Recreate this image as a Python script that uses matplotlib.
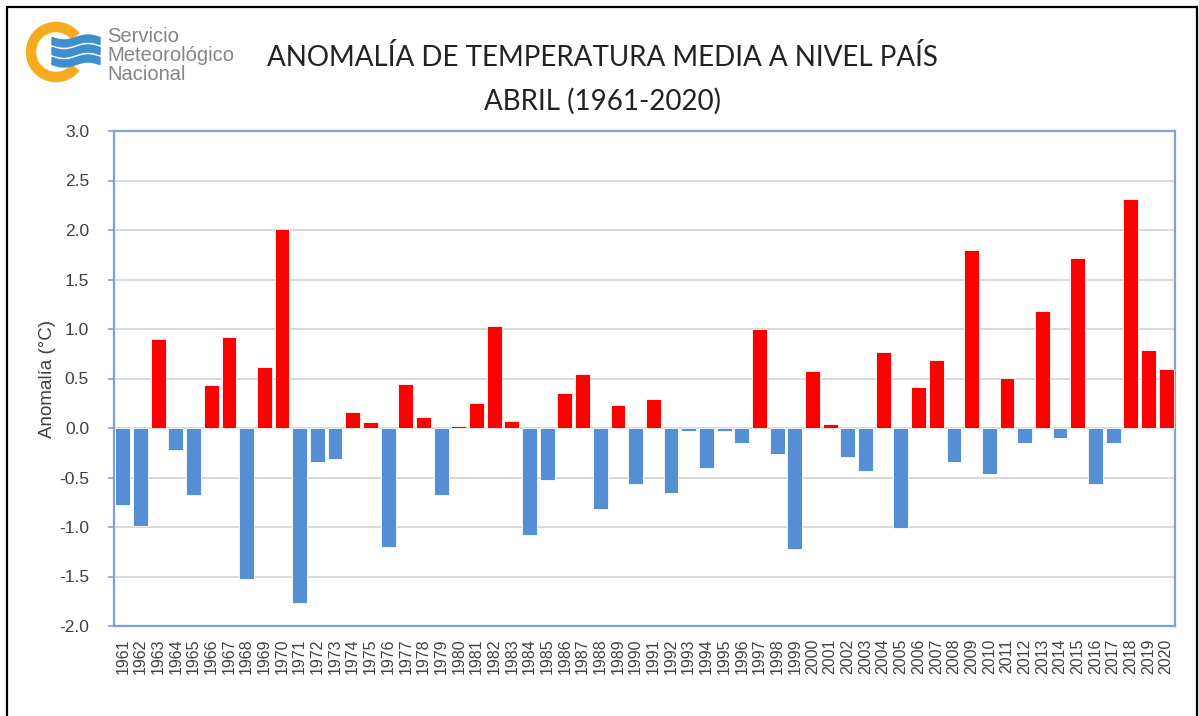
import numpy as np
import matplotlib
matplotlib.use("Agg")
import matplotlib.pyplot as plt
from matplotlib.patches import Rectangle, Arc, Polygon

years = list(range(1961, 2021))
anomalies = [
    -0.78, -0.99, 0.90, -0.22, -0.68, 0.43, 0.92, -1.53, 0.62, 2.01,
    -1.77, -0.34, -0.31, 0.16, 0.06, -1.20, 0.44, 0.11, -0.68, 0.02,
    0.25, 1.03, 0.07, -1.08, -0.53, 0.35, 0.55, -0.82, 0.23, -0.57,
    0.29, -0.66, -0.03, -0.40, -0.03, -0.15, 1.00, -0.26, -1.22, 0.58,
    0.04, -0.29, -0.43, 0.77, -1.01, 0.41, 0.69, -0.34, 1.80, -0.46,
    0.51, -0.15, 1.18, -0.10, 1.72, -0.57, -0.15, 2.31, 0.79, 0.60,
]
yticks = [-2.0, -1.5, -1.0, -0.5, 0.0, 0.5, 1.0, 1.5, 2.0, 2.5, 3.0]
title_lines = ["ANOMALÍA DE TEMPERATURA MEDIA A NIVEL PAÍS", "ABRIL (1961-2020)"]
ylabel = "Anomalía (°C)"
logo_lines = ["Servicio", "Meteorológico", "Nacional"]

W, H = 1199, 716
fig = plt.figure(figsize=(W / 100, H / 100), dpi=100)
fig.patch.set_facecolor("white")

# outer frame
fig.add_artist(Rectangle((7 / W, -0.01), (1197 - 7) / W, 1 - 7 / H + 0.01,
                         transform=fig.transFigure, fill=False,
                         edgecolor="black", linewidth=1.6))

ax = fig.add_axes([114 / W, 1 - 626 / H, (1175 - 114) / W, (626 - 131) / H])
x = np.arange(len(years))
colors = ["#ff0000" if v >= 0 else "#558ed5" for v in anomalies]
ax.bar(x, anomalies, width=0.84, color=colors, edgecolor="white",
       linewidth=0.6, zorder=3)
ax.set_xlim(-0.5, len(years) - 0.5)
ax.set_ylim(-2.0, 3.0)
ax.set_yticks(yticks)
ax.set_yticklabels([f"{t:.1f}" for t in yticks], fontsize=12.5,
                   color="#404040", family="Liberation Sans")
ax.set_xticks(x)
ax.set_xticklabels([str(y) for y in years], rotation=90, fontsize=11.5,
                   color="#404040", family="Liberation Sans")
ax.tick_params(axis="x", length=0, pad=9)
ax.tick_params(axis="y", length=4, width=1.2, color="#7ea2d6", pad=14)
ax.grid(axis="y", color="#d9d9d9", linewidth=1.4, zorder=0)
for s in ax.spines.values():
    s.set_color("#7ea2d6")
    s.set_linewidth(1.6)
ax.set_ylabel(ylabel, fontsize=13.5, color="#404040", family="Liberation Sans",
              labelpad=2)

# title
fig.text(602 / W, 1 - 58 / H, title_lines[0], ha="center", va="center",
         fontsize=20, color="#222222", family="Lato")
fig.text(602 / W, 1 - 101 / H, title_lines[1], ha="center", va="center",
         fontsize=20, color="#222222", family="Lato")

# logo (drawn in pixel coordinates)
lax = fig.add_axes([0, 0, 1, 1], zorder=5)
lax.set_xlim(0, W)
lax.set_ylim(H, 0)
lax.set_axis_off()
lax.patch.set_alpha(0)
lax.add_patch(Arc((56, 52), 50, 50, theta1=38, theta2=322,
                  color="#f5ab1b", linewidth=7.5))
xs = np.linspace(52, 100, 60)
for off in (41, 51, 61):
    top = off - 3.5 + 2.5 * np.sin((xs - 52) / 48 * 2 * np.pi)
    bot = top + 7
    pts = np.column_stack([np.r_[xs, xs[::-1]], np.r_[top, bot[::-1]]])
    lax.add_patch(Polygon(pts, closed=True, color="#3d8fd1"))
for i, t in enumerate(logo_lines):
    fig.text(107 / W, 1 - (37 + 18.5 * i) / H, t, ha="left", va="center",
             fontsize=14.5, color="#858585", family="Liberation Sans")

fig.savefig("out.png", dpi=100)
